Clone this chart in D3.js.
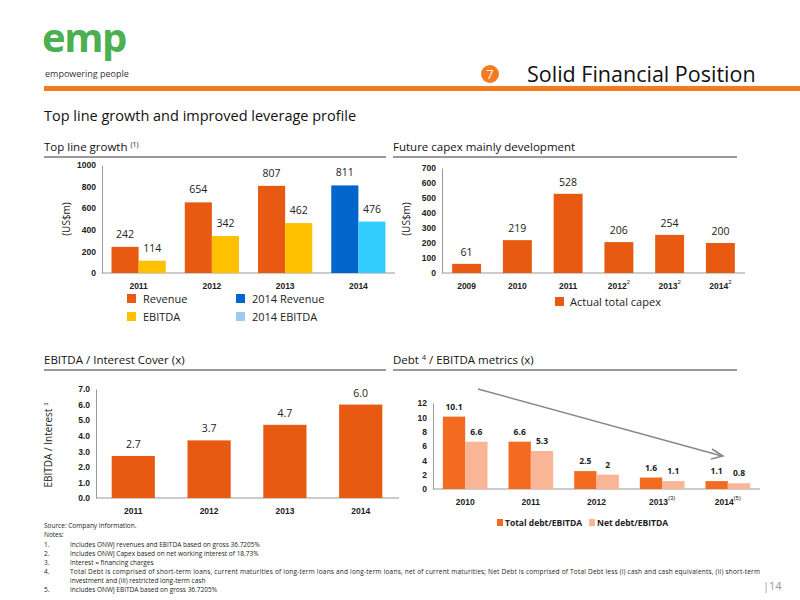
<!DOCTYPE html>
<html><head><meta charset="utf-8">
<script src="https://cdn.jsdelivr.net/npm/d3@7"></script>
<style>body{margin:0;background:#fff}svg{font-family:"Open Sans",sans-serif}</style>
</head><body><svg width="800" height="600"></svg>
<script>
const topYears = ["2011", "2012", "2013", "2014"];
const revenue = [242, 654, 807, 811];
const ebitda = [114, 342, 462, 476];
const capexYears = ["2009", "2010", "2011", "2012", "2013", "2014"];
const capexSup = ["", "", "", "2", "2", "2"];
const capex = [61, 219, 528, 206, 254, 200];
const coverYears = ["2011", "2012", "2013", "2014"];
const cover = [2.7, 3.7, 4.7, 6.0];
const debtYears = ["2010", "2011", "2012", "2013", "2014"];
const debtSup = ["", "", "", "(3)", "(5)"];
const totalDebt = [10.1, 6.6, 2.5, 1.6, 1.1];
const netDebt = [6.6, 5.3, 2, 1.1, 0.8];
const notes = [
  ["1.", "Includes ONWJ revenues and EBITDA based on gross 36.7205%"],
  ["2.", "Includes ONWJ Capex based on net working interest of 18.73%"],
  ["3.", "Interest  = financing charges"],
  ["4.", "Total Debt is comprised of short-term loans, current maturities of long-term loans and long-term loans, net of current maturities; Net Debt is comprised of Total Debt less (i) cash and cash equivalents, (ii) short-term"],
  ["", "investment and (iii) restricted long-term cash"],
  ["5.", "Includes ONWJ EBITDA based on gross 36.7205%"]
];

const ORANGE = "#E85A12", YELLOW = "#FFC000", BLUE = "#0066CC", LBLUE = "#33CCFF";
const svg = d3.select("svg");

// header
svg.append("text").attr("x", 42).attr("y", 52).attr("fill", "#4CAF50")
  .attr("font-size", 40).attr("font-weight", "bold").attr("letter-spacing", -1.5).text("emp");
svg.append("text").attr("x", 45).attr("y", 77).attr("font-size", 9).attr("fill", "#333").text("empowering people");
svg.append("rect").attr("x", 44).attr("y", 86).attr("width", 756).attr("height", 5).attr("fill", "#F47B20");
svg.append("circle").attr("cx", 490).attr("cy", 74).attr("r", 9).attr("fill", "#F47B20");
svg.append("text").attr("x", 490).attr("y", 79).attr("text-anchor", "middle").attr("fill", "#fff").attr("font-size", 13).text("7");
svg.append("text").attr("x", 527).attr("y", 82).attr("font-size", 21.5).attr("fill", "#111").text("Solid Financial Position");
svg.append("text").attr("x", 44).attr("y", 121).attr("font-size", 14.5).attr("fill", "#111").text("Top line growth and improved leverage profile");

function section(x, y, w, label, sup) {
  const t = svg.append("text").attr("x", x).attr("y", y).attr("font-size", 11.5).attr("fill", "#111").text(label);
  if (sup) t.append("tspan").attr("font-size", 7).attr("dy", -4).text(sup);
  svg.append("line").attr("x1", x).attr("x2", x + w).attr("y1", y + 6).attr("y2", y + 6)
    .attr("stroke", "#777").attr("stroke-width", 1.5);
}
section(44, 151, 342, "Top line growth ", "(1)");
section(393, 151, 344, "Future capex mainly development");
section(44, 364, 342, "EBITDA / Interest Cover (x)");
const dt = svg.append("text").attr("x", 393).attr("y", 364).attr("font-size", 11.5).attr("fill", "#111").text("Debt ");
dt.append("tspan").attr("font-size", 7).attr("dy", -4).text("4");
dt.append("tspan").attr("dy", 4).text(" / EBITDA metrics (x)");
svg.append("line").attr("x1", 393).attr("x2", 737).attr("y1", 370).attr("y2", 370).attr("stroke", "#777").attr("stroke-width", 1.5);

function axes(x, y, xLeft, fmt, ticks, sup) {
  const b = x.range();
  const ya = svg.append("g").attr("transform", `translate(${xLeft},0)`)
    .call(d3.axisLeft(y).tickValues(ticks).tickFormat(fmt).tickSize(0).tickPadding(6));
  ya.select(".domain").attr("stroke", "#999");
  ya.selectAll("text").attr("font-size", 8.5).attr("font-weight", "bold").attr("fill", "#222");
  svg.append("line").attr("x1", xLeft).attr("x2", b[1]).attr("y1", y.range()[0]).attr("y2", y.range()[0]).attr("stroke", "#999");
  const xa = svg.append("g").attr("transform", `translate(0,${y.range()[0]})`)
    .call(d3.axisBottom(x).tickSize(0).tickPadding(10));
  xa.select(".domain").remove();
  xa.selectAll("text").attr("font-size", 8.5).attr("font-weight", "bold").attr("fill", "#222");
  if (sup) xa.selectAll("text").each(function (d, i) {
    if (sup[i]) d3.select(this).append("tspan").attr("font-size", 6).attr("dy", -5).attr("font-weight", "normal").text(sup[i]);
  });
}
function ylab(x, y, text, sup) {
  const t = svg.append("text").attr("transform", `translate(${x},${y}) rotate(-90)`)
    .attr("text-anchor", "middle").attr("font-size", 10).attr("fill", "#222").text(text);
  if (sup) t.append("tspan").attr("font-size", 6).attr("dy", -4).text(sup);
}

// chart 1
{
  const x = d3.scaleBand().domain(topYears).range([102, 395]).paddingInner(0.26).paddingOuter(0.13);
  const y = d3.scaleLinear().domain([0, 1000]).range([273, 165]);
  axes(x, y, 102, d3.format("d"), d3.range(0, 1001, 200));
  ylab(70, 219, "(US$m)");
  const bw = x.bandwidth() / 2;
  topYears.forEach((yr, i) => {
    const last = yr === "2014";
    [[revenue[i], last ? BLUE : ORANGE, 0], [ebitda[i], last ? LBLUE : YELLOW, bw]].forEach(([v, c, off]) => {
      svg.append("rect").attr("x", x(yr) + off).attr("y", y(v)).attr("width", bw).attr("height", y(0) - y(v)).attr("fill", c);
      svg.append("text").attr("x", x(yr) + off + bw / 2).attr("y", y(v) - 9).attr("text-anchor", "middle")
        .attr("font-size", 10.5).attr("fill", "#222").text(v);
    });
  });
  [["Revenue", ORANGE, 127, 303], ["EBITDA", YELLOW, 127, 321], ["2014 Revenue", BLUE, 236, 303], ["2014 EBITDA", "#99CCEE", 236, 321]]
    .forEach(([l, c, lx, ly]) => {
      svg.append("rect").attr("x", lx).attr("y", ly - 9).attr("width", 9).attr("height", 9).attr("fill", c);
      svg.append("text").attr("x", lx + 16).attr("y", ly).attr("font-size", 11).attr("fill", "#222").text(l);
    });
}
// chart 2
{
  const x = d3.scaleBand().domain(capexYears).range([442, 745]).paddingInner(0.43).paddingOuter(0.2);
  const y = d3.scaleLinear().domain([0, 700]).range([273, 168]);
  axes(x, y, 442, d3.format("d"), d3.range(0, 701, 100), capexSup);
  ylab(410, 219, "(US$m)");
  capexYears.forEach((yr, i) => {
    svg.append("rect").attr("x", x(yr)).attr("y", y(capex[i])).attr("width", x.bandwidth()).attr("height", y(0) - y(capex[i])).attr("fill", ORANGE);
    svg.append("text").attr("x", x(yr) + x.bandwidth() / 2).attr("y", y(capex[i]) - 8).attr("text-anchor", "middle")
      .attr("font-size", 10.5).attr("fill", "#222").text(capex[i]);
  });
  svg.append("rect").attr("x", 555).attr("y", 297).attr("width", 9).attr("height", 9).attr("fill", ORANGE);
  svg.append("text").attr("x", 570).attr("y", 306).attr("font-size", 11).attr("fill", "#222").text("Actual total capex");
}
// chart 3
{
  const x = d3.scaleBand().domain(coverYears).range([95, 399]).paddingInner(0.43).paddingOuter(0.22);
  const y = d3.scaleLinear().domain([0, 7]).range([498, 389]);
  axes(x, y, 96, d3.format(".1f"), d3.range(0, 7.01, 1));
  ylab(52, 445, "EBITDA / Interest ", "3");
  coverYears.forEach((yr, i) => {
    svg.append("rect").attr("x", x(yr)).attr("y", y(cover[i])).attr("width", x.bandwidth()).attr("height", y(0) - y(cover[i])).attr("fill", ORANGE);
    svg.append("text").attr("x", x(yr) + x.bandwidth() / 2).attr("y", y(cover[i]) - 8).attr("text-anchor", "middle")
      .attr("font-size", 10.5).attr("fill", "#222").text(cover[i].toFixed(1));
  });
}
// chart 4
{
  const x = d3.scaleBand().domain(debtYears).range([433, 760]).paddingInner(0.32).paddingOuter(0.15);
  const y = d3.scaleLinear().domain([0, 12]).range([489, 403]);
  axes(x, y, 433, d3.format("d"), d3.range(0, 12.01, 2), debtSup);
  const bw = x.bandwidth() / 2;
  debtYears.forEach((yr, i) => {
    [[totalDebt[i], "#F26B21", 0], [netDebt[i], "#F9B595", bw]].forEach(([v, c, off]) => {
      svg.append("rect").attr("x", x(yr) + off).attr("y", y(v)).attr("width", bw).attr("height", y(0) - y(v)).attr("fill", c);
      svg.append("text").attr("x", x(yr) + off + bw / 2).attr("y", y(v) - 7).attr("text-anchor", "middle")
        .attr("font-size", 8.5).attr("font-weight", "bold").attr("fill", "#222").text(v);
    });
  });
  svg.append("line").attr("x1", 478).attr("y1", 389).attr("x2", 722).attr("y2", 456).attr("stroke", "#888").attr("stroke-width", 1.5);
  svg.append("path").attr("d", "M712,449 L723,456 L711,459").attr("fill", "none").attr("stroke", "#888").attr("stroke-width", 1.5);
  [["Total debt/EBITDA", "#F26B21", 497], ["Net debt/EBITDA", "#F9B595", 589]].forEach(([l, c, lx]) => {
    svg.append("rect").attr("x", lx).attr("y", 519).attr("width", 6).attr("height", 7).attr("fill", c);
    svg.append("text").attr("x", lx + 8).attr("y", 526).attr("font-size", 8.5).attr("font-weight", "bold").attr("fill", "#222").text(l);
  });
}
// notes
svg.append("text").attr("x", 44).attr("y", 528).attr("font-size", 6.5).attr("fill", "#222").text("Source: Company information.");
svg.append("text").attr("x", 44).attr("y", 537).attr("font-size", 6.5).attr("fill", "#222").text("Notes:");
notes.forEach(([n, t], i) => {
  svg.append("text").attr("x", 44).attr("y", 547 + i * 9).attr("font-size", 6.5).attr("fill", "#222").text(n);
  svg.append("text").attr("x", 70).attr("y", 547 + i * 9).attr("font-size", 6.5).attr("fill", "#222")
    .attr("textLength", i === 3 ? 690 : null).text(t);
});
svg.append("text").attr("x", 763).attr("y", 590).attr("font-size", 11).attr("fill", "#999").text("|14");
</script></body></html>
